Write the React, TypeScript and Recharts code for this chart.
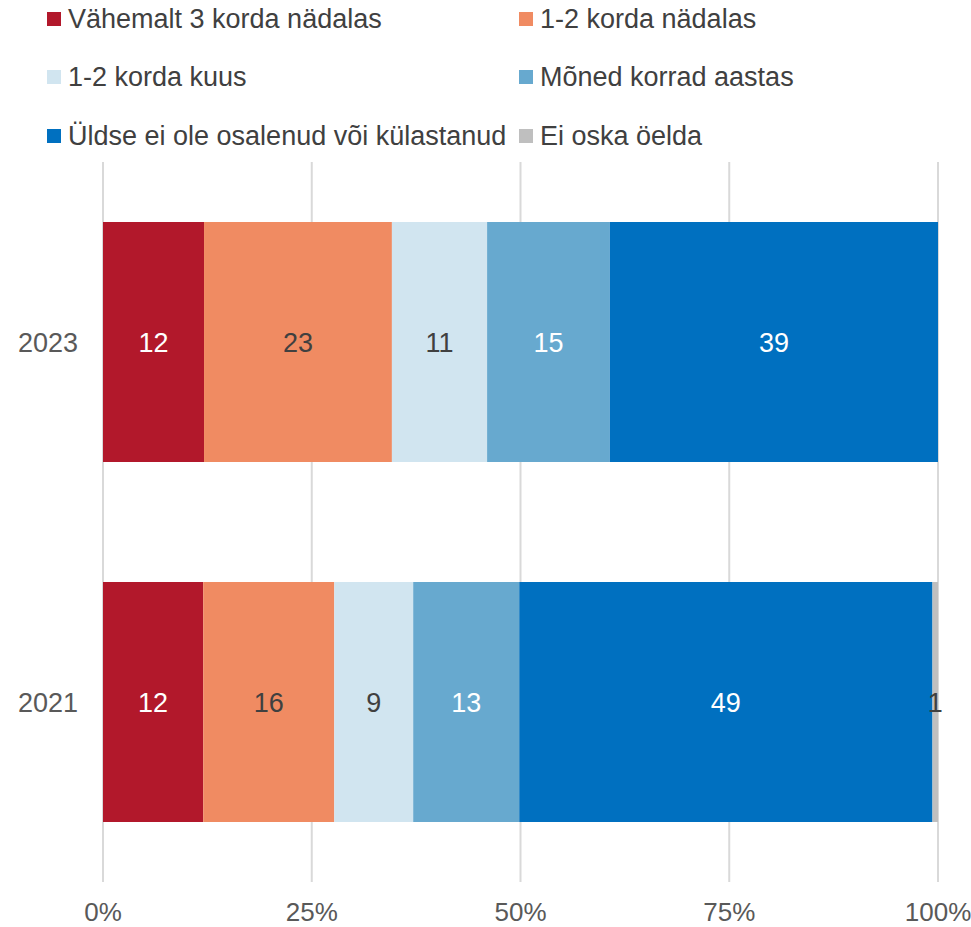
import { BarChart, Bar, XAxis, YAxis, CartesianGrid, LabelList } from "recharts";

const years = ["2023", "2021"];
const seriesNames = [
  "Vähemalt 3 korda nädalas",
  "1-2 korda nädalas",
  "1-2 korda kuus",
  "Mõned korrad aastas",
  "Üldse ei ole osalenud või külastanud",
  "Ei oska öelda",
];
const colors = ["#b2182b", "#f08b62", "#d1e5f0", "#67a9cf", "#0070c0", "#bfbfbf"];
const labelColors = ["#ffffff", "#404040", "#404040", "#ffffff", "#ffffff", "#404040"];

const weekly3 = [12.1, 12.0];
const weekly12 = [22.5, 15.7];
const monthly = [11.4, 9.45];
const yearly = [14.7, 12.7];
const never = [39.3, 49.49];
const dontKnow = [0, 0.66];

const xTicks = [0, 25, 50, 75, 100];

const seriesValues = [weekly3, weekly12, monthly, yearly, never, dontKnow];

const data = years.map((year, i) => {
  const row: Record<string, any> = { year };
  seriesValues.forEach((vals, s) => {
    row[`s${s}`] = vals[i];
  });
  return row;
});

const FONT = "'Liberation Sans', Arial, sans-serif";

const legendPos = [
  { left: 47, top: 0 },
  { left: 519, top: 0 },
  { left: 47, top: 58 },
  { left: 519, top: 58 },
  { left: 47, top: 117 },
  { left: 519, top: 117 },
];

const App = () => {
  return (
    <div
      style={{
        position: "absolute",
        left: 0,
        top: 0,
        width: 971,
        height: 927,
        background: "#fff",
        fontFamily: FONT,
      }}
    >
      {seriesNames.map((name, i) => (
        <div
          key={name}
          style={{
            position: "absolute",
            left: legendPos[i].left,
            top: legendPos[i].top,
            height: 38,
            display: "flex",
            alignItems: "center",
            fontSize: 27,
            color: "#404040",
            whiteSpace: "nowrap",
          }}
        >
          <span
            style={{
              display: "inline-block",
              width: 14,
              height: 14,
              background: colors[i],
              marginRight: 7,
            }}
          />
          {name}
        </div>
      ))}
      <BarChart
        width={971}
        height={927}
        data={data}
        layout="vertical"
        margin={{ top: 162, right: 33, left: 0, bottom: 0 }}
        barCategoryGap={60}
      >
        <CartesianGrid horizontal={false} stroke="#d9d9d9" strokeWidth={2} />
        <XAxis
          type="number"
          domain={[0, 100]}
          ticks={xTicks}
          tickFormatter={(v) => `${v}%`}
          axisLine={false}
          tickLine={false}
          tickSize={0}
          tickMargin={21}
          height={45}
          interval={0}
          tick={{ fill: "#595959", fontSize: 26, fontFamily: FONT }}
        />
        <YAxis
          type="category"
          dataKey="year"
          axisLine={false}
          tickLine={false}
          tickSize={0}
          tickMargin={25}
          width={103}
          tick={{ fill: "#595959", fontSize: 27, fontFamily: FONT }}
        />
        {seriesNames.map((name, s) => (
          <Bar
            key={name}
            dataKey={`s${s}`}
            name={name}
            stackId="a"
            fill={colors[s]}
            isAnimationActive={false}
          >
            <LabelList
              dataKey={`s${s}`}
              position="center"
              formatter={(v: any) => (v > 0 ? Math.round(v) : "")}
              fill={labelColors[s]}
              style={{ fontSize: 27, fontFamily: FONT }}
            />
          </Bar>
        ))}
      </BarChart>
    </div>
  );
};

export default App;
